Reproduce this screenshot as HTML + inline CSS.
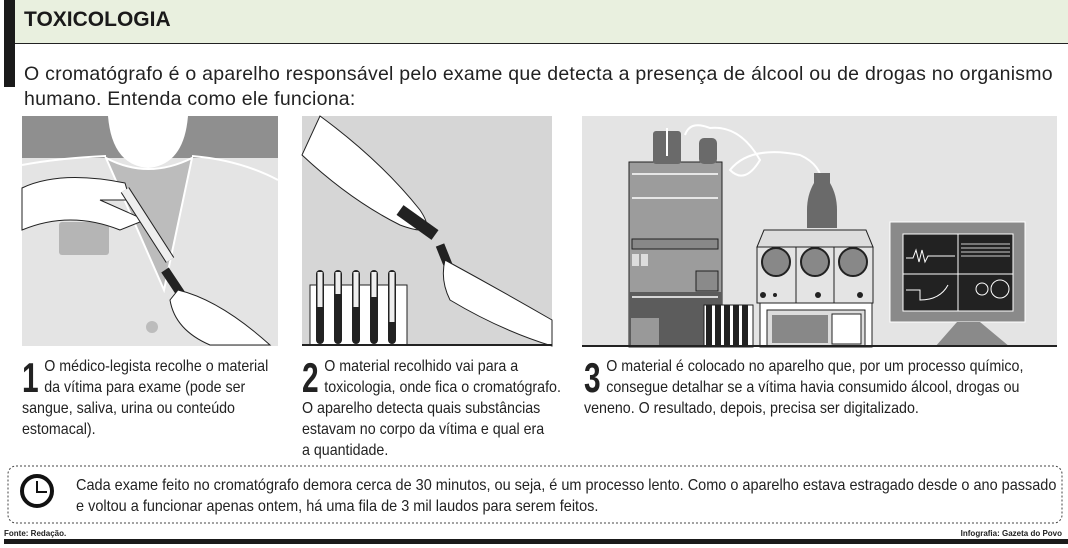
<!DOCTYPE html>
<html><head><meta charset="utf-8"><style>
body{margin:0;width:1068px;height:548px;background:#fff;position:relative;overflow:hidden;font-family:"Liberation Sans",sans-serif;color:#222}
.a{position:absolute}
.cap{position:absolute;font-size:16px;line-height:21px;color:#222;transform:scaleX(0.89);transform-origin:0 0;white-space:nowrap}
.num{float:left;font-weight:bold;font-size:42px;line-height:34px;margin:5px 3px 0 0;height:36px;transform:scaleX(0.8);transform-origin:0 0;width:22px}
</style></head><body>
<div class="a" style="left:4px;top:0;width:11px;height:87px;background:#1a1a1a"></div>
<div class="a" style="left:15px;top:0;width:1053px;height:43px;background:#e9f0df;border-bottom:1.5px solid #222"></div>
<div class="a" style="left:24px;top:8px;font-weight:bold;font-size:21px;color:#1a1a1a">TOXICOLOGIA</div>
<div class="a" style="left:24px;top:62px;font-size:19.5px;line-height:25px;color:#222;width:1060px;letter-spacing:0.25px">O cromatógrafo é o aparelho responsável pelo exame que detecta a presença de álcool ou de drogas no organismo<br>humano. Entenda como ele funciona:</div>

<svg class="a" style="left:0;top:0" width="1068" height="548">
<rect x="22" y="116" width="256" height="230" fill="#e4e4e4"/>
<rect x="22" y="116" width="256" height="42" fill="#8f8f8f"/>
<path d="M108 116 Q112 165 148 168 Q184 165 188 116Z" fill="#fff"/>
<path d="M106 158 Q148 180 192 158 L164 290Z" fill="#bcbcbc" stroke="#fff" stroke-width="2"/>
<path d="M22 165 Q60 158 106 156 M192 156 Q240 160 278 180" stroke="#fff" stroke-width="2" fill="none"/>
<rect x="59" y="222" width="50" height="33" rx="3" fill="#b5b5b5"/>
<circle cx="152" cy="327" r="6" fill="#bcbcbc"/>
<path d="M22 188 Q60 170 125 183 L130 200 L100 200 L145 220 L120 230 Q70 210 22 230Z" fill="#fff" stroke="#222"/>
<path d="M125 190 L170 260" stroke="#222" stroke-width="10"/><path d="M125 190 L170 260" stroke="#eee" stroke-width="8"/>
<path d="M165 270 L185 300" stroke="#222" stroke-width="9"/>
<path d="M178 290 Q220 300 270 345 L210 345 Q175 330 170 300Z" fill="#fff" stroke="#222"/>
<rect x="302" y="116" width="250" height="230" fill="#d6d6d6"/>
<path d="M302 155 Q350 200 400 225 Q440 240 420 210 Q380 160 320 116Z" fill="#fff" stroke="#222"/>
<path d="M400 210 L435 235" stroke="#222" stroke-width="12"/>
<path d="M440 245 L450 270" stroke="#222" stroke-width="9"/>
<path d="M445 260 Q500 290 552 320 L552 346 Q500 330 450 300 Q440 280 445 260Z" fill="#fff" stroke="#222"/>
<rect x="310" y="285" width="97" height="60" fill="#fff" stroke="#222"/>
<g fill="#222"><rect x="316" y="270" width="8" height="74" rx="4"/><rect x="334" y="270" width="8" height="74" rx="4"/><rect x="352" y="270" width="8" height="74" rx="4"/><rect x="370" y="270" width="8" height="74" rx="4"/><rect x="388" y="270" width="8" height="74" rx="4"/></g>
<g fill="#eee"><rect x="317.5" y="272" width="5" height="35"/><rect x="335.5" y="272" width="5" height="22"/><rect x="353.5" y="272" width="5" height="35"/><rect x="371.5" y="272" width="5" height="25"/><rect x="389.5" y="272" width="5" height="50"/></g>
<rect x="302" y="344" width="250" height="2" fill="#222"/>
<rect x="582" y="116" width="475" height="231" fill="#e4e4e4"/>
<rect x="629" y="162" width="93" height="185" fill="#9c9c9c" stroke="#222"/>
<rect x="629" y="292" width="93" height="55" fill="#5c5c5c"/>
<g stroke="#fff" stroke-width="1.5"><line x1="632" y1="174" x2="718" y2="174"/><line x1="632" y1="198" x2="718" y2="198"/><line x1="632" y1="244" x2="718" y2="244"/><line x1="632" y1="297" x2="718" y2="297"/></g>
<rect x="632" y="239" width="86" height="10" fill="#888" stroke="#222"/>
<rect x="696" y="271" width="22" height="20" fill="#8a8a8a" stroke="#222"/>
<rect x="632" y="254" width="7" height="12" fill="#ddd"/><rect x="641" y="254" width="7" height="12" fill="#ddd"/>
<rect x="631" y="318" width="28" height="28" fill="#999"/>
<rect x="653" y="131" width="28" height="33" rx="3" fill="#6a6a6a"/><rect x="699" y="138" width="18" height="26" rx="5" fill="#6a6a6a"/>
<path d="M667 128 V156 M685 135 Q690 120 710 128 Q740 125 760 160 Q745 185 730 170 Q750 145 800 155 Q822 165 822 185" stroke="#fff" stroke-width="2" fill="none"/>
<path d="M814 173 h16 v10 Q837 195 837 210 V228 H807 V210 Q807 195 814 183Z" fill="#6a6a6a"/>
<path d="M757 247 L764 230 H866 L873 247Z" fill="#ddd" stroke="#222"/>
<rect x="757" y="247" width="116" height="56" fill="#e4e4e4" stroke="#222"/>
<line x1="796" y1="247" x2="796" y2="303" stroke="#222"/><line x1="834" y1="247" x2="834" y2="303" stroke="#222"/>
<g fill="#888" stroke="#222" stroke-width="2"><circle cx="776" cy="262" r="14"/><circle cx="815" cy="262" r="14"/><circle cx="853" cy="262" r="14"/></g>
<g fill="#222"><circle cx="763" cy="295" r="3"/><circle cx="775" cy="295" r="2"/><circle cx="818" cy="295" r="3"/><circle cx="860" cy="295" r="3"/></g>
<rect x="760" y="303" width="112" height="44" fill="#fff" stroke="#222"/>
<rect x="767" y="310" width="98" height="36" fill="#ddd" stroke="#222"/>
<rect x="772" y="315" width="56" height="28" fill="#888"/><rect x="832" y="314" width="29" height="30" fill="#fff" stroke="#222"/>
<rect x="704" y="305" width="49" height="42" fill="#fff" stroke="#222"/>
<g fill="#222"><rect x="706" y="305" width="6" height="40"/><rect x="715" y="305" width="6" height="40"/><rect x="724" y="305" width="6" height="40"/><rect x="733" y="305" width="6" height="40"/><rect x="742" y="305" width="6" height="40"/></g>
<rect x="890" y="222" width="135" height="100" fill="#8a8a8a" stroke="#fff"/>
<rect x="903" y="234" width="110" height="77" fill="#222" stroke="#fff"/>
<line x1="958" y1="234" x2="958" y2="311" stroke="#fff"/><line x1="903" y1="274" x2="1013" y2="274" stroke="#fff"/>
<path d="M906 258 H913 L916 250 L919 262 L922 250 L925 262 L928 256 H955" stroke="#fff" fill="none"/>
<g stroke="#ccc"><line x1="961" y1="244" x2="1010" y2="244"/><line x1="961" y1="248" x2="1010" y2="248"/><line x1="961" y1="252" x2="1010" y2="252"/><line x1="961" y1="256" x2="1010" y2="256"/></g>
<path d="M906 290 H920 V300 Q940 300 948 285" stroke="#fff" fill="none"/>
<circle cx="982" cy="289" r="6" stroke="#fff" fill="none"/><circle cx="1000" cy="289" r="9" stroke="#fff" fill="none"/>
<path d="M935 347 L957 322 H980 L1010 347Z" fill="#8a8a8a"/>
<rect x="582" y="345" width="475" height="2" fill="#222"/>
<rect x="8" y="466" width="1054" height="57" rx="8" fill="none" stroke="#444" stroke-dasharray="2 2"/>
<circle cx="37" cy="491" r="15" fill="none" stroke="#111" stroke-width="4"/>
<path d="M37 481 V492 H47" stroke="#111" stroke-width="2" fill="none"/>
<rect x="4" y="539" width="1064" height="5" fill="#1a1a1a"/>
</svg>

<div class="cap" style="left:22px;top:356px"><span class="num">1</span>O médico-legista recolhe o material<br>da vítima para exame (pode ser<br>sangue, saliva, urina ou conteúdo<br>estomacal).</div>
<div class="cap" style="left:302px;top:356px"><span class="num">2</span>O material recolhido vai para a<br>toxicologia, onde fica o cromatógrafo.<br>O aparelho detecta quais substâncias<br>estavam no corpo da vítima e qual era<br>a quantidade.</div>
<div class="cap" style="left:584px;top:356px"><span class="num">3</span>O material é colocado no aparelho que, por um processo químico,<br>consegue detalhar se a vítima havia consumido álcool, drogas ou<br>veneno. O resultado, depois, precisa ser digitalizado.</div>
<div class="cap" style="left:76px;top:475px;transform:scaleX(0.905)">Cada exame feito no cromatógrafo demora cerca de 30 minutos, ou seja, é um processo lento. Como o aparelho estava estragado desde o ano passado<br>e voltou a funcionar apenas ontem, há uma fila de 3 mil laudos para serem feitos.</div>
<div class="a" style="left:4px;top:529px;font-size:8px;font-weight:bold">Fonte: Redação.</div>
<div class="a" style="right:6px;top:529px;font-size:8px;font-weight:bold">Infografia: Gazeta do Povo</div>
</body></html>
